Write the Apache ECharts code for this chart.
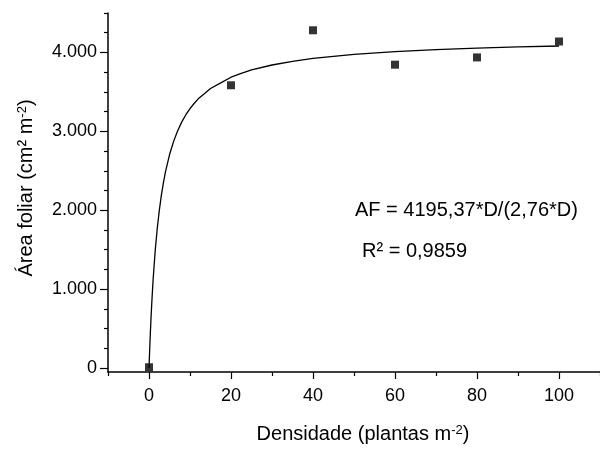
<!DOCTYPE html>
<html>
<head>
<meta charset="utf-8">
<script src="https://cdn.jsdelivr.net/npm/echarts@6/dist/echarts.min.js"></script>
<style>html,body{margin:0;padding:0;background:#fff}#c{width:600px;height:449px}</style>
</head>
<body>
<div id="c"></div>
<script>
// Observed data
const densidade = [0, 20, 40, 60, 80, 100];
const areaFoliar = [10, 3584, 4281, 3845, 3937, 4139];
// Fitted curve
const curveD = [0, 0.25, 0.5, 0.75, 1, 1.5, 2, 2.5, 3, 3.5, 4, 5, 6, 7, 8, 9, 10, 11, 12, 13.5, 15, 17.5, 20, 22.5, 25, 30, 35, 40, 45, 50, 60, 70, 80, 90, 100];
const curveAF = [0, 349, 643, 894, 1116, 1480, 1763, 1992, 2185, 2345, 2482, 2703, 2873, 3008, 3120, 3211, 3288, 3353, 3412, 3478, 3543, 3614, 3686, 3736, 3778, 3841, 3887, 3924, 3951, 3976, 4011, 4036, 4055, 4070, 4082];
// Ticks
const xMajorTicks = [0, 20, 40, 60, 80, 100];
const xMinorTicks = [-10, 10, 30, 50, 70, 90, 110];
const yMajorTicks = [0, 1000, 2000, 3000, 4000];
const yMinorTicks = [250, 500, 750, 1250, 1500, 1750, 2250, 2500, 2750, 3250, 3500, 3750, 4250, 4500];
const eqText = 'AF = 4195,37*D/(2,76*D)';
const r2Text = 'R\u00B2 = 0,9859';

const FONT = 'Liberation Sans, Arial, sans-serif';
const FS = 18;
const FN = 20;
const chart = echarts.init(document.getElementById('c'), null, {renderer: 'canvas'});
const fmtY = v => v === 0 ? '0' : (v / 1000).toFixed(0) + '.000';
const xBase = {type: 'value', min: -10, max: 110, splitLine: {show: false}};
const yBase = {type: 'value', min: -50, max: 4500, splitLine: {show: false}};
const axLine = {show: true, onZero: false, lineStyle: {color: '#000', width: 1.5}};
const supStyle = {fontSize: 13, color: '#000', fontFamily: FONT, verticalAlign: 'top', lineHeight: 11};
chart.setOption({
  animation: false,
  backgroundColor: '#fff',
  grid: {left: 108, top: 13, right: 0, bottom: 75},
  xAxis: [
    Object.assign({}, xBase, {
      axisLine: axLine,
      axisTick: {show: true, length: 7, inside: false, customValues: xMajorTicks, lineStyle: {color: '#000', width: 1.2}},
      axisLabel: {show: true, customValues: xMajorTicks, margin: 15, fontSize: FS, color: '#000', fontFamily: FONT},
      name: 'Densidade (plantas m{s|-2})',
      nameLocation: 'middle',
      nameGap: 52,
      nameTextStyle: {fontSize: FN, color: '#000', fontFamily: FONT, padding: [0, 0, 0, 18], rich: {s: supStyle}}
    }),
    Object.assign({}, xBase, {
      position: 'bottom',
      axisLine: {show: false, onZero: false},
      axisTick: {show: true, length: 4, customValues: xMinorTicks, lineStyle: {color: '#000', width: 1.2}},
      axisLabel: {show: false}
    })
  ],
  yAxis: [
    Object.assign({}, yBase, {
      axisLine: axLine,
      axisTick: {show: true, length: 8, customValues: yMajorTicks, lineStyle: {color: '#000', width: 1.2}},
      axisLabel: {show: true, customValues: yMajorTicks, margin: 11, fontSize: FS, color: '#000', fontFamily: FONT, formatter: fmtY},
      name: '\u00C1rea foliar (cm\u00B2 m{s|-2})',
      nameLocation: 'middle',
      nameRotate: 90,
      nameGap: 72,
      nameTextStyle: {fontSize: FN, color: '#000', fontFamily: FONT, padding: [0, 0, 0, 9], rich: {s: supStyle}}
    }),
    Object.assign({}, yBase, {
      position: 'left',
      axisLine: {show: false, onZero: false},
      axisTick: {show: true, length: 4, customValues: yMinorTicks, lineStyle: {color: '#000', width: 1.2}},
      axisLabel: {show: false}
    })
  ],
  series: [
    {
      type: 'line',
      xAxisIndex: 0, yAxisIndex: 0,
      data: curveD.map((d, i) => [d, curveAF[i]]),
      smooth: false,
      showSymbol: false,
      lineStyle: {color: '#000', width: 1.3},
      z: 2
    },
    {
      type: 'scatter',
      xAxisIndex: 0, yAxisIndex: 0,
      data: densidade.map((d, i) => [d, areaFoliar[i]]),
      symbol: 'rect',
      symbolSize: 8,
      itemStyle: {color: '#000'},
      z: 3
    }
  ],
  graphic: [
    {type: 'text', left: 355, top: 200, style: {text: eqText, fontSize: FN, fill: '#000', fontFamily: FONT}},
    {type: 'text', left: 362, top: 241, style: {text: r2Text, fontSize: FN, fill: '#000', fontFamily: FONT}}
  ]
});
</script>
</body>
</html>
